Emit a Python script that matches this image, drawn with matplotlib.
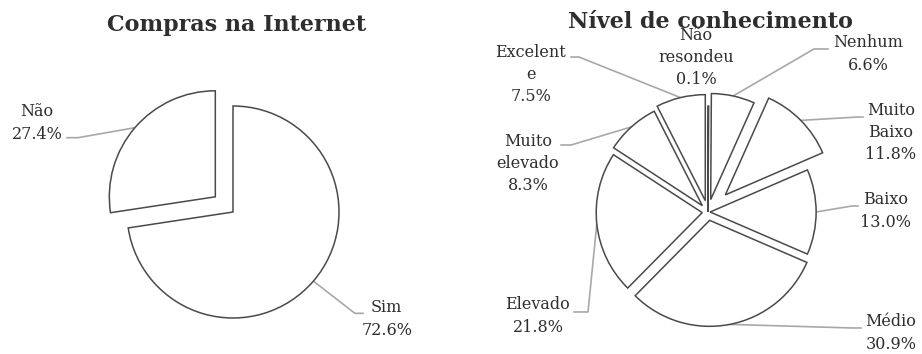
import matplotlib.pyplot as plt
import numpy as np

plt.rcParams['font.family'] = ['DejaVu Serif']

# compras na internet
buy_labels = ['Sim', 'Não']
buy_values = [72.6, 27.4]

# nivel de conhecimento
level_labels = ['Não\nresondeu', 'Nenhum', 'Muito\nBaixo', 'Baixo', 'Médio',
                'Elevado', 'Muito\nelevado', 'Excelent\ne']
level_values = [0.1, 6.6, 11.8, 13.0, 30.9, 21.8, 8.3, 7.5]

# layout (pie radius = 1 data unit)
buy_explode = [0, 0.22]
buy_text = [(1.45, -1.01), (-1.85, 0.84)]
buy_leaders = [[(1.15, -0.956), (1.226, -0.956)],
               [(-1.462, 0.701), (-1.566, 0.701)]]

level_explode = [0, 0.12, 0.23, 0.02, 0.08, 0.055, 0.08, 0.11]
level_text = [(-0.113, 1.46), (1.509, 1.49), (1.726, 0.75), (1.679, 0.01),
              (1.726, -1.142), (-1.604, -0.981), (-1.698, 0.458), (-1.67, 1.297)]
level_leaders = [None,
                 [(1.0, 1.538), (1.132, 1.538)],
                 [(1.41, 0.896), (1.462, 0.896)],
                 [(1.36, 0.057), (1.415, 0.057)],
                 [(1.35, -1.094), (1.443, -1.094)],
                 [(-1.132, -0.943), (-1.264, -0.943)],
                 [(-1.292, 0.632), (-1.387, 0.632)],
                 [(-1.217, 1.462), (-1.292, 1.462)]]

text_color = '#2e2e2e'
edge_color = '#4a4a4a'
line_color = '#a8a8a8'


def draw_pie(ax, values, labels, explode, text_pos, leaders):
    wedges, _ = ax.pie(values, explode=explode, startangle=90, counterclock=False,
                       radius=1,
                       wedgeprops=dict(facecolor='white', edgecolor=edge_color,
                                       linewidth=1.1))
    for w, lab, val, tp, ld in zip(wedges, labels, values, text_pos, leaders):
        ax.text(tp[0], tp[1], f'{lab}\n{val:.1f}%', ha='center', va='center',
                fontsize=11.5, color=text_color, linespacing=1.4)
        if ld is None:
            continue
        mid = np.deg2rad((w.theta1 + w.theta2) / 2)
        cx, cy = w.center
        xs = [cx + w.r * np.cos(mid)] + [p[0] for p in ld]
        ys = [cy + w.r * np.sin(mid)] + [p[1] for p in ld]
        ax.plot(xs, ys, color=line_color, lw=1.2, zorder=0.5)
    ax.axis('off')


fig = plt.figure(figsize=(9.22, 3.54), dpi=100)

ax1 = fig.add_axes([0, 0, 0.5, 1])
draw_pie(ax1, buy_values, buy_labels, buy_explode, buy_text, buy_leaders)
ax1.set_xlim(-233 / 106, 228 / 106)
ax1.set_ylim(-142 / 106, 212 / 106)

ax2 = fig.add_axes([0.5, 0, 0.5, 1])
draw_pie(ax2, level_values, level_labels, level_explode, level_text, level_leaders)
ax2.set_xlim(-247 / 106, 214 / 106)
ax2.set_ylim(-142 / 106, 212 / 106)

fig.text(237 / 922, 1 - 25 / 354, 'Compras na Internet', ha='center', va='center',
         fontsize=16, fontweight='bold', color=text_color)
fig.text(711 / 922, 1 - 22 / 354, 'Nível de conhecimento', ha='center', va='center',
         fontsize=16, fontweight='bold', color=text_color)

fig.savefig('out.png', dpi=100, facecolor='white')
